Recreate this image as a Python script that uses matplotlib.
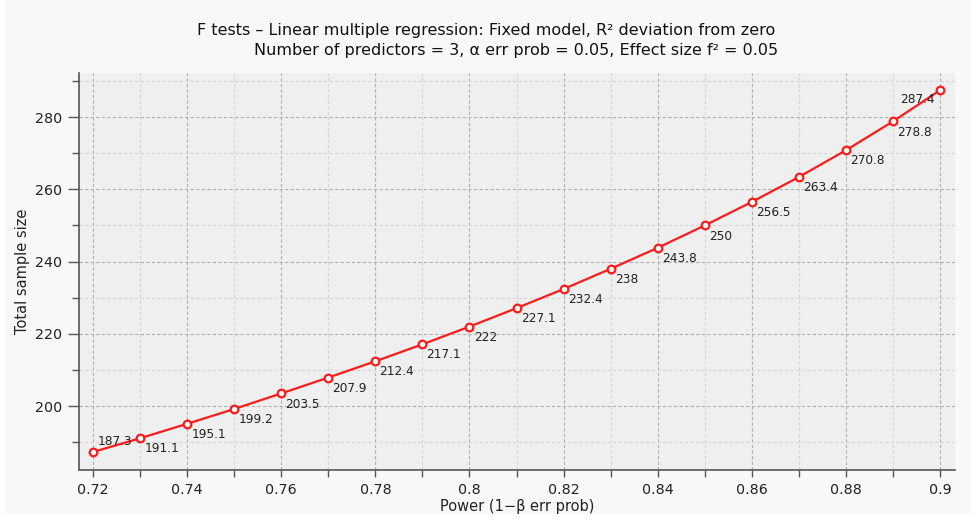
import matplotlib
matplotlib.use("Agg")
import matplotlib.pyplot as plt
from matplotlib.ticker import MultipleLocator, FixedLocator
import numpy as np

power = [0.72, 0.73, 0.74, 0.75, 0.76, 0.77, 0.78, 0.79, 0.80, 0.81,
         0.82, 0.83, 0.84, 0.85, 0.86, 0.87, 0.88, 0.89, 0.90]
sample_size = [187.3, 191.1, 195.1, 199.2, 203.5, 207.9, 212.4, 217.1, 222, 227.1,
               232.4, 238, 243.8, 250, 256.5, 263.4, 270.8, 278.8, 287.4]
labels = ["187.3", "191.1", "195.1", "199.2", "203.5", "207.9", "212.4", "217.1", "222", "227.1",
          "232.4", "238", "243.8", "250", "256.5", "263.4", "270.8", "278.8", "287.4"]
xticks = [0.72, 0.74, 0.76, 0.78, 0.80, 0.82, 0.84, 0.86, 0.88, 0.90]
xticklabels = ["0.72", "0.74", "0.76", "0.78", "0.8", "0.82", "0.84", "0.86", "0.88", "0.9"]
yticks = [200, 220, 240, 260, 280]

fig = plt.figure(figsize=(9.76, 5.27), dpi=100, facecolor="white")
bg = fig.add_axes([0.005, 0.025, 0.99, 0.975])
bg.set_facecolor("#f8f8f8")
bg.set_xticks([]); bg.set_yticks([])
for s in bg.spines.values():
    s.set_visible(False)
bg.set_zorder(-5)

ax = fig.add_axes([79/976, 1-470/527, (955-79)/976, (470-73)/527])
ax.set_facecolor("#efefef")
ax.plot(power, sample_size, color="#ff1a1a", lw=1.6, marker="o", ms=5.5,
        mfc="white", mec="#ff1a1a", mew=1.6, zorder=3)

for i, (x, y, t) in enumerate(zip(power, sample_size, labels)):
    if i == 0:
        ax.annotate(t, (x, y), xytext=(3, 3), textcoords="offset points",
                    fontsize=8.7, color="#222222", ha="left", va="bottom", family="DejaVu Sans")
    elif i == len(power) - 1:
        ax.annotate(t, (x, y), xytext=(-4, -2), textcoords="offset points",
                    fontsize=8.7, color="#222222", ha="right", va="top", family="DejaVu Sans")
    else:
        ax.annotate(t, (x, y), xytext=(3, -3), textcoords="offset points",
                    fontsize=8.7, color="#222222", ha="left", va="top", family="DejaVu Sans")

ax.set_xlim(0.7170, 0.9032)
ax.set_ylim(182.3, 292.2)
ax.xaxis.set_major_locator(FixedLocator(xticks))
ax.set_xticklabels(xticklabels)
ax.xaxis.set_minor_locator(MultipleLocator(0.01))
ax.yaxis.set_major_locator(FixedLocator(yticks))
ax.yaxis.set_minor_locator(MultipleLocator(10))

ax.grid(which="major", axis="both", color="#b0b0b0", linestyle=(0, (3, 2)), lw=0.8)
ax.grid(which="minor", axis="both", color="#d6d6d6", linestyle=(0, (3, 2)), lw=0.8)
ax.set_axisbelow(True)

for side in ["top", "right"]:
    ax.spines[side].set_visible(False)
for side in ["left", "bottom"]:
    ax.spines[side].set_color("#555555")
    ax.spines[side].set_linewidth(1.2)

ax.tick_params(axis="x", which="both", direction="out", color="#555555", length=5, width=1)
ax.tick_params(axis="y", which="major", direction="out", color="#555555", length=8, width=1)
ax.tick_params(axis="y", which="minor", direction="out", color="#555555", length=5, width=1)
ax.tick_params(axis="both", labelsize=10.3, labelcolor="#222222", pad=4)

ax.set_xlabel("Power (1\u2212\u03b2 err prob)", fontsize=10.5, color="#222222", labelpad=2)
ax.set_ylabel("Total sample size", fontsize=10.5, color="#222222", labelpad=4)

fig.text(486/976, 1-30/527, "F tests \u2013 Linear multiple regression: Fixed model, R\u00b2 deviation from zero",
         ha="center", va="center", fontsize=11.5, color="#111111")
fig.text(516/976, 1-50/527, "Number of predictors = 3, \u03b1 err prob = 0.05, Effect size f\u00b2 = 0.05",
         ha="center", va="center", fontsize=11.5, color="#111111")

fig.savefig("out.png", dpi=100, facecolor="white")
